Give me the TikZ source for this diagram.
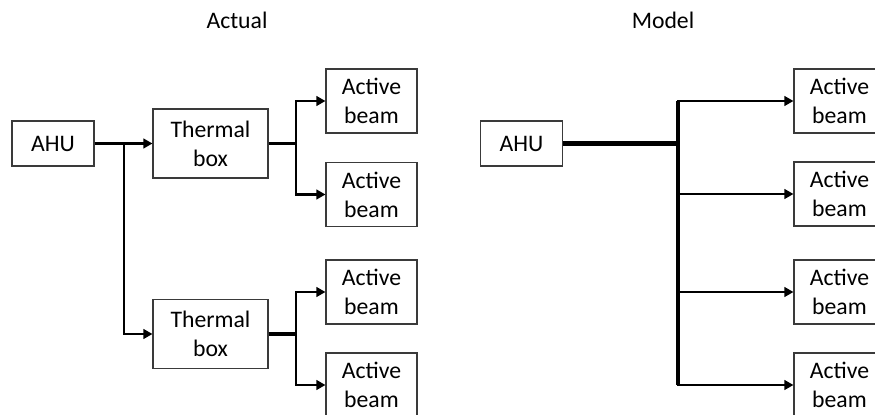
\documentclass[tikz,border=0pt]{standalone}
\usepackage{fontspec}
\setmainfont{Carlito}
\usepackage{tikz}
\usepackage{xcolor}
\usetikzlibrary{arrows.meta, positioning, calc}
\definecolor{boxline}{HTML}{3A3A3A}
\tikzstyle{unit} = [rectangle, text centered, draw=boxline, fill=white, line width=0.6pt,
                    font=\fontsize{13.5}{16.5}\selectfont, align=center, inner sep=0pt]
\tikzstyle{ahu} = [unit, minimum width=1.64cm, minimum height=0.9cm]
\tikzstyle{tbox} = [unit, minimum width=2.3cm, minimum height=1.38cm]
\tikzstyle{beam} = [unit, minimum width=1.82cm, minimum height=1.28cm]
\tikzstyle{trunk} = [line width=2pt]
\tikzstyle{arrow} = [-{Triangle[length=1.8mm, width=1.9mm]}, line width=1.5pt]

\begin{document}
\begin{tikzpicture}[x=0.02cm, y=-0.02cm]
    \useasboundingbox (0,0) rectangle (875,415);
    \clip (0,0) rectangle (875,415);

    % Titles
    \node[font=\fontsize{13.5}{16}\selectfont] (titleA) at (237,20) {Actual};
    \node[font=\fontsize{13.5}{16}\selectfont] (titleM) at (663,20) {Model};

    % Actual layout
    \node[ahu] (ahuA) at (53,143.5) {AHU};
    \node[tbox] (tbA) at (210.5,143.5) {Thermal\\box};
    \node[tbox] (tbB) at (210.5,334) {Thermal\\box};
    \foreach \y [count=\i] in {101,194.5,292,385}
        \node[beam] (beamA\i) at (371.5,\y) {Active\\beam};

    \coordinate (jA) at (124,143.5);
    \coordinate (jB) at (296,143.5);
    \coordinate (jC) at (296,334);
    \draw[trunk] (ahuA.east) -- (jA);
    \draw[arrow] (jA) -- (tbA.west);
    \draw[arrow] (jA) |- (tbB.west);
    \draw[trunk] (tbA.east) -- (jB);
    \draw[trunk] (tbB.east) -- (jC);
    \draw[arrow] (jB) |- (beamA1.west);
    \draw[arrow] (jB) |- (beamA2.west);
    \draw[arrow] (jC) |- (beamA3.west);
    \draw[arrow] (jC) |- (beamA4.west);

    % Model layout
    \node[ahu] (ahuM) at (521.5,143.5) {AHU};
    \foreach \y [count=\i] in {101,194,292,385}
        \node[beam] (beamM\i) at (839.5,\y) {Active\\beam};

    \coordinate (jM) at (678,143.5);
    \draw[line width=2.6pt] (ahuM.east) -- (jM);
    \foreach \i in {1,...,4}
        \draw[arrow] (jM) |- (beamM\i.west);
    \draw[trunk] (jM |- beamM1.west) -- (jM |- beamM4.west);
\end{tikzpicture}
\end{document}
